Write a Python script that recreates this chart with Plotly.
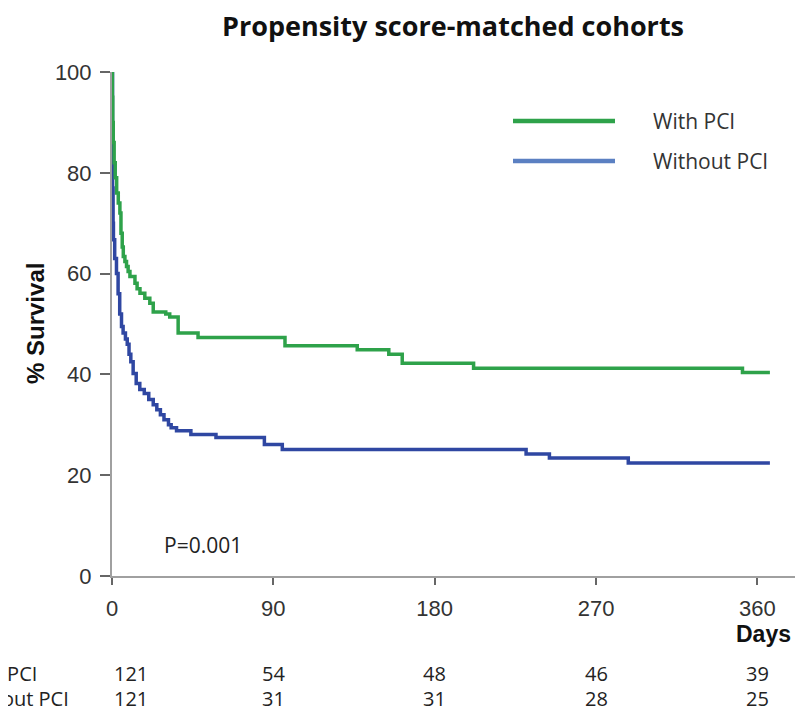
import plotly.graph_objects as go

# ---- data ----
with_days = [0, 0.2, 0.4, 0.7, 1.2, 1.8, 2.6, 3.5, 4.4, 5.0, 5.7, 6.3, 7.2, 8.1, 9.0, 10.0,
             12.8, 14.0, 15.6, 18.3, 21.1, 23.0, 30.0, 32.2, 36.9, 48.0, 96.5, 136.8,
             154.4, 161.9, 201.7, 351.7, 367]
with_surv = [100, 95, 90, 86, 82, 79, 76, 74, 72, 68, 65.3, 63.4, 62.4, 61.4, 60.4, 59.4,
             58.1, 57.0, 56.1, 55.1, 54.1, 52.4, 52.0, 51.4, 48.2, 47.3, 45.7, 44.9,
             44.0, 42.2, 41.2, 40.4, 40.4]

without_days = [0, 0.3, 0.6, 0.8, 1.5, 2.5, 3.4, 4.3, 5.3, 6.2, 7.5, 8.5, 9.5, 10.5, 11.8,
                13.5, 15.5, 18.0, 20.5, 23.0, 25.0, 27.0, 29.0, 31.5, 33.0, 36.0, 44.0,
                58.0, 85.0, 95.0, 231.0, 244.0, 288.0, 367]
without_surv = [100, 77, 70, 66.7, 63, 60, 56, 52, 49.5, 48.2, 47, 46, 44, 42.5, 40.2,
                38.2, 37, 36.2, 35, 34, 33, 32, 31, 30, 29.4, 28.8, 28.1,
                27.5, 26.1, 25.1, 24.2, 23.4, 22.4, 22.4]

x_ticks = [0, 90, 180, 270, 360]
y_ticks = [0, 20, 40, 60, 80, 100]
risk_with = [121, 54, 48, 46, 39]
risk_without = [121, 31, 31, 28, 25]
series_names = ["With PCI", "Without PCI"]
title_text = "Propensity score-matched cohorts"
p_text = "P=0.001"

GREEN = "#2ea24a"
BLUE = "#2f47a2"
LEG_BLUE = "#5b80c2"

fig = go.Figure()
fig.add_trace(go.Scatter(x=without_days, y=without_surv, mode="lines", line_shape="hv",
                         line=dict(color=BLUE, width=3.5), name=series_names[1],
                         showlegend=False))
fig.add_trace(go.Scatter(x=with_days, y=with_surv, mode="lines", line_shape="hv",
                         line=dict(color=GREEN, width=3.5), name=series_names[0],
                         showlegend=False))

# page body adds an 8px offset; figure coords = screen coords - OFF
OFF = 8
W, H = 806 - OFF, 719 - OFF
L, T = 112 - OFF, 72 - OFF
R = W - (795 - OFF)
B = H - (576 - OFF)
pw, ph = W - L - R, H - T - B


def px(xs):
    """screen x (reference pixels) -> paper x"""
    return (xs - OFF - L) / pw


def py(ys):
    """screen y (reference pixels) -> paper y"""
    return (H - B - (ys - OFF)) / ph


ann = []
# y-axis title
ann.append(dict(text="<b>% Survival</b>", xref="paper", yref="paper", x=px(35), y=py(324),
                xanchor="center", yanchor="middle",
                textangle=-90, showarrow=False,
                font=dict(family="Liberation Sans", size=24, color="#111")))
# P value
ann.append(dict(text=p_text, xref="x", yref="y", x=28, y=6.2, xanchor="left", yanchor="middle",
                showarrow=False, font=dict(family="Open Sans", size=21, color="#222")))
# Days
ann.append(dict(text="<b>Days</b>", xref="paper", yref="paper", x=px(793), y=py(634),
                xanchor="right", yanchor="middle", showarrow=False,
                font=dict(family="Liberation Sans", size=23, color="#111")))
# legend text
for name, yy in zip(series_names, [121, 161]):
    ann.append(dict(text=name, xref="paper", yref="paper", x=px(651), y=py(yy), xanchor="left",
                    yanchor="middle", showarrow=False,
                    font=dict(family="Open Sans", size=21, color="#333")))
# numbers at risk
for row, yy, lab in [(risk_with, 673, series_names[0]), (risk_without, 698, series_names[1])]:
    ann.append(dict(text=lab, xref="paper", yref="paper", x=px(-43), y=py(yy), xanchor="left",
                    yanchor="middle", showarrow=False,
                    font=dict(family="Open Sans", size=20, color="#222")))
    for i, (t, v) in enumerate(zip(x_ticks, row)):
        ann.append(dict(text=str(v), xref="x", yref="paper", x=t, y=py(yy),
                        xanchor="left" if i == 0 else "center", yanchor="middle", showarrow=False,
                        font=dict(family="Open Sans", size=20, color="#222")))

shapes = []
for col, yy in [(GREEN, 121), (LEG_BLUE, 161)]:
    shapes.append(dict(type="line", xref="paper", yref="paper", x0=px(513), x1=px(615),
                       y0=py(yy), y1=py(yy), line=dict(color=col, width=4.5)))

fig.update_layout(
    width=W, height=H,
    margin=dict(l=L, r=R, t=T, b=B),
    paper_bgcolor="white", plot_bgcolor="white",
    title=dict(text="<b>" + title_text + "</b>", x=(453 - OFF) / W, xanchor="center",
               y=1 - (27 - OFF) / H, yanchor="middle",
               font=dict(family="Open Sans", size=27, color="#111")),
    annotations=ann, shapes=shapes,
    showlegend=False,
)
fig.update_xaxes(range=[0, 381], tickvals=x_ticks, showgrid=False, zeroline=False,
                 showline=True, linecolor="#a0a0a0", linewidth=2,
                 ticks="outside", ticklen=7, tickwidth=2, tickcolor="#666",
                 ticklabelstandoff=5,
                 tickfont=dict(family="Liberation Sans", size=22, color="#333"))
fig.update_yaxes(range=[0, 100], tickvals=y_ticks, showgrid=False, zeroline=False,
                 showline=True, linecolor="#a0a0a0", linewidth=2,
                 ticks="outside", ticklen=10, tickwidth=2, tickcolor="#666",
                 ticklabelstandoff=4,
                 tickfont=dict(family="Liberation Sans", size=22, color="#333"))

fig.write_html("out.html")
